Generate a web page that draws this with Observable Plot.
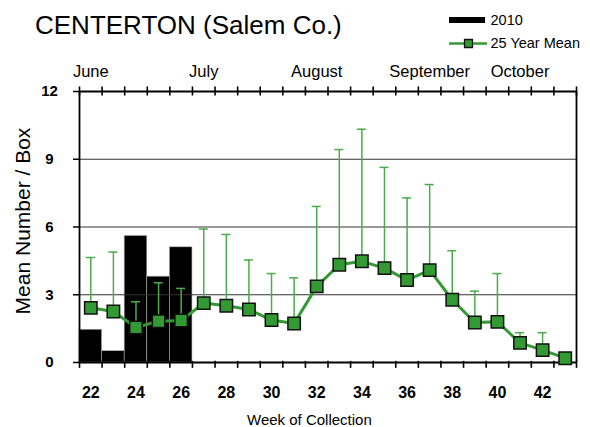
<!DOCTYPE html>
<html>
<head>
<meta charset="utf-8">
<script src="https://cdn.jsdelivr.net/npm/d3@7"></script>
<script src="https://cdn.jsdelivr.net/npm/@observablehq/plot@0.6"></script>
<style>
  html, body { margin: 0; padding: 0; background: #fff; }
  #wrap { position: relative; width: 590px; height: 427px; font-family: "Liberation Sans", Arial, sans-serif; }
  #wrap svg { position: absolute; left: 0; top: 0; }
  .lbl { position: absolute; white-space: nowrap; color: #000; z-index: 5; line-height: 1; }
</style>
</head>
<body>
<div id="wrap">
  <div class="lbl" style="left:35px; top:12px; font-size:26px;">CENTERTON (Salem Co.)</div>
  <div class="lbl" style="left:247px; top:412px; font-size:15px;">Week of Collection</div>
  <div class="lbl" style="left:22px; top:221px; font-size:21px; transform: translate(-50%,-50%) rotate(-90deg);">Mean Number / Box</div>
</div>
<script>
const weeks = [22,23,24,25,26,27,28,29,30,31,32,33,34,35,36,37,38,39,40,41,42,43];
const barWeeks = [22,23,24,25,26];
const bars2010 = [1.45,0.5,5.6,3.8,5.1];
const mean25 = [2.42,2.26,1.55,1.83,1.86,2.63,2.51,2.35,1.88,1.73,3.37,4.33,4.48,4.18,3.65,4.09,2.78,1.77,1.80,0.87,0.55,0.19];
const upper25 = [4.65,4.89,2.69,3.53,3.28,5.91,5.67,4.54,3.94,3.75,6.91,9.43,10.33,8.64,7.29,7.88,4.95,3.16,3.94,1.32,1.32,null];
const monthWeeks = [22,27,32,37,41];
const monthNames = ["June","July","August","September","October"];
const yTicks = [0,3,6,9,12];
const xTickLabels = [22,24,26,28,30,32,34,36,38,40,42];

const GREEN = "#339933";
const ERR = "#4cab4c";

const bars = barWeeks.map((w,i) => ({week:w, v:bars2010[i]}));
const means = weeks.map((w,i) => ({week:w, mean:mean25[i], upper:upper25[i]}));
const errs = means.filter(d => d.upper != null);
const months = monthWeeks.map((w,i) => ({week:w, name:monthNames[i]}));
const edges = weeks.map(w => w - 0.5).concat([weeks[weeks.length-1] + 0.5]);
const bottomTicks = edges.map(e => ({x: e, y1: -0.26, y2: 0.05}));
const topTicks = edges.map(e => ({x: e, y1: 11.8, y2: 12.2}));

const chart = Plot.plot({
  width: 590, height: 427,
  marginLeft: 79, marginRight: 14, marginTop: 91, marginBottom: 65,
  style: {fontFamily: "Liberation Sans, Arial, sans-serif", background: "transparent"},
  x: {domain: [21.5, 43.5], axis: null},
  y: {domain: [0, 12], axis: null},
  marks: [
    Plot.rectY(bars, {x1: d => d.week - 0.5, x2: d => d.week + 0.5, y: "v", fill: "black", stroke: "#aaa", strokeWidth: 0.6}),
    Plot.ruleY([3,6,9], {stroke: "#333", strokeWidth: 1}),
    Plot.ruleY([0,12], {stroke: "black", strokeWidth: 1.8}),
    Plot.ruleX([21.5, 43.5], {stroke: "black", strokeWidth: 1.8}),
    Plot.ruleX(bottomTicks, {x: "x", y1: "y1", y2: "y2", stroke: "black", strokeWidth: 1.6}),
    Plot.ruleX(topTicks, {x: "x", y1: "y1", y2: "y2", stroke: "black", strokeWidth: 1.6}),
    Plot.axisY({ticks: yTicks, tickSize: 6, tickFormat: () => "", label: null, strokeWidth: 1.5}),
    Plot.text(yTicks, {x: 21.5, y: d => d, text: d => String(d), dx: -30, textAnchor: "middle", fontSize: 15, fontWeight: "bold"}),
    Plot.text(xTickLabels, {x: d => d, y: 0, text: d => String(d), dy: 30, fontSize: 16, fontWeight: "bold"}),
    Plot.text(months, {x: "week", y: 12, text: "name", dy: -20, fontSize: 16.5}),
    Plot.ruleX(errs, {x: "week", y1: "mean", y2: "upper", stroke: ERR, strokeWidth: 1.5}),
    Plot.ruleY(errs, {y: "upper", x1: d => d.week - 0.2, x2: d => d.week + 0.2, stroke: ERR, strokeWidth: 1.5}),
    Plot.line(means, {x: "week", y: "mean", stroke: GREEN, strokeWidth: 3}),
    Plot.dot(means, {x: "week", y: "mean", symbol: "square", r: 7, fill: GREEN, stroke: "#111", strokeWidth: 1.5})
  ]
});
document.getElementById("wrap").appendChild(chart);

const legend = Plot.plot({
  width: 150, height: 60, margin: 0,
  x: {domain: [0, 150]}, y: {domain: [60, 0]},
  axis: null,
  style: {background: "transparent", fontFamily: "Liberation Sans, Arial, sans-serif"},
  marks: [
    Plot.rect([{}], {x1: 9, x2: 45, y1: 17, y2: 23, fill: "black"}),
    Plot.text(["2010"], {x: 50, y: 20, text: d => d, textAnchor: "start", fontSize: 14.5}),
    Plot.ruleY([43], {x1: 9, x2: 47, stroke: GREEN, strokeWidth: 2.5}),
    Plot.dot([{}], {x: 28, y: 43, symbol: "square", r: 4.5, fill: GREEN, stroke: "#111", strokeWidth: 1.3}),
    Plot.text(["25 Year Mean"], {x: 50, y: 43, text: d => d, textAnchor: "start", fontSize: 14.5})
  ]
});
legend.style.left = "440px";
legend.style.top = "0px";
document.getElementById("wrap").appendChild(legend);
</script>
</body>
</html>
